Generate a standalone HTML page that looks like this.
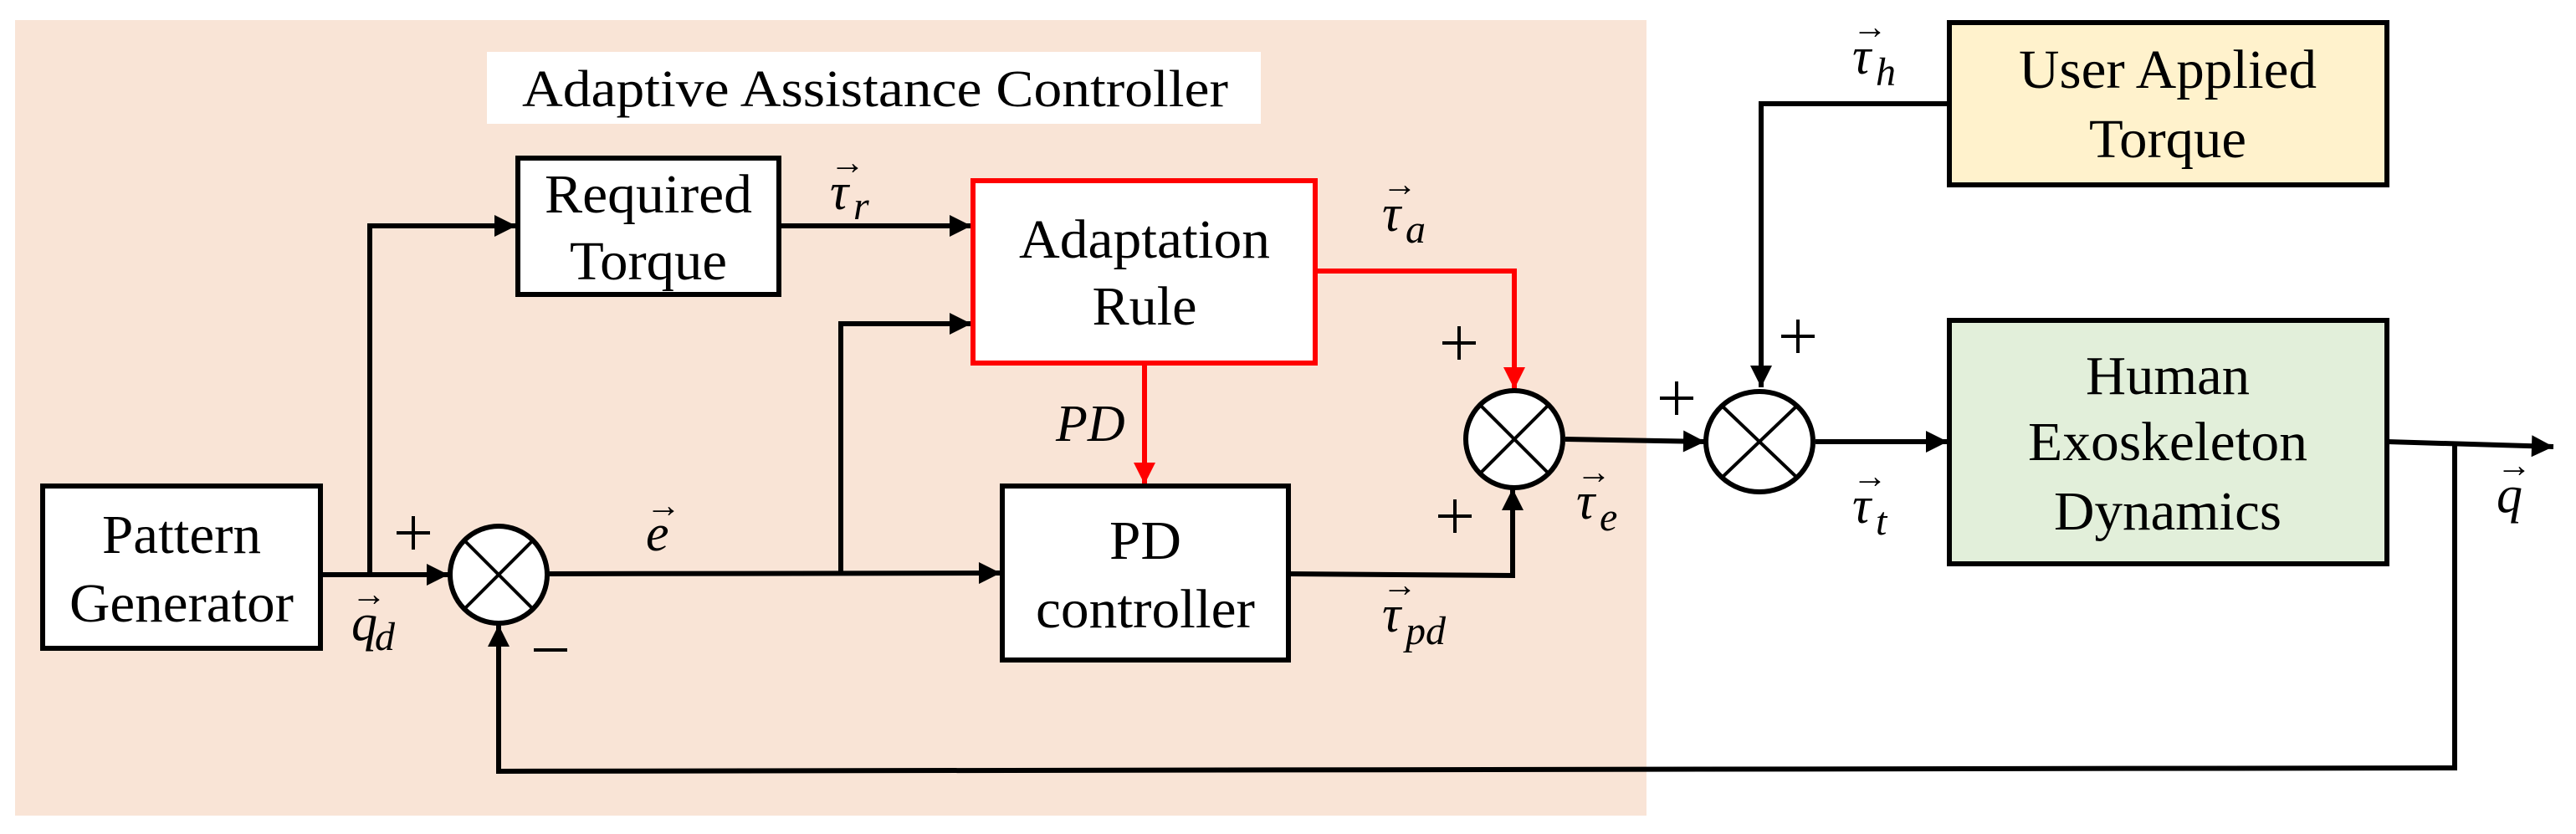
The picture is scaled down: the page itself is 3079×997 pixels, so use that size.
<!DOCTYPE html>
<html><head><meta charset="utf-8"><style>
html,body{margin:0;padding:0;background:#fff;}
svg{display:block;}
svg text{font-family:"Liberation Serif","Times New Roman",serif !important;}
</style></head><body>
<svg width="3079" height="997" viewBox="0 0 3079 997" xmlns="http://www.w3.org/2000/svg">
<defs>
<marker id="a" viewBox="0 0 10 10" refX="10" refY="5" markerWidth="28" markerHeight="26" orient="auto" markerUnits="userSpaceOnUse"><path d="M0,0 L10,5 L0,10 z" fill="#000"/></marker>
<marker id="r" viewBox="0 0 10 10" refX="10" refY="5" markerWidth="28" markerHeight="26" orient="auto" markerUnits="userSpaceOnUse"><path d="M0,0 L10,5 L0,10 z" fill="#ff0000"/></marker>
</defs>
<rect x="18" y="24" width="1950" height="951" fill="#f9e4d6"/>
<rect x="582" y="62" width="925" height="86" fill="#fff"/>
<text x="624" y="127" font-size="62" textLength="844" lengthAdjust="spacingAndGlyphs">Adaptive Assistance Controller</text>

<g fill="none" stroke="#000" stroke-width="6">
<line x1="383" y1="687" x2="536" y2="687" marker-end="url(#a)"/>
<polyline points="442,687 442,270 617,270" marker-end="url(#a)"/>
<line x1="931" y1="270" x2="1161" y2="270" marker-end="url(#a)"/>
<line x1="656" y1="686" x2="1196" y2="685" marker-end="url(#a)"/>
<polyline points="1005,686 1005,387 1161,387" marker-end="url(#a)"/>
<polyline points="1540,686 1808,688 1808,584" marker-end="url(#a)"/>
<line x1="1871" y1="525" x2="2038" y2="528" marker-end="url(#a)"/>
<polyline points="2330,124 2105,124 2105,463" marker-end="url(#a)"/>
<line x1="2170" y1="528" x2="2328" y2="528" marker-end="url(#a)"/>
<line x1="2853" y1="528" x2="3052" y2="534" marker-end="url(#a)"/>
<polyline points="2934,532 2934,918 596,922 596,747" marker-end="url(#a)"/>
</g>
<g fill="none" stroke="#ff0000" stroke-width="6">
<line x1="1368" y1="434" x2="1368" y2="579" marker-end="url(#r)"/>
<polyline points="1572,324 1810,324 1810,465" marker-end="url(#r)"/>
</g>

<g stroke-width="6">
<rect x="619" y="189" width="312" height="163" fill="#fff" stroke="#000"/>
<rect x="1163" y="216" width="409" height="218" fill="#fff" stroke="#ff0000"/>
<rect x="51" y="581" width="332" height="194" fill="#fff" stroke="#000"/>
<rect x="1198" y="581" width="342" height="208" fill="#fff" stroke="#000"/>
<rect x="2330" y="27" width="523" height="194" fill="#fff2cc" stroke="#000"/>
<rect x="2330" y="383" width="523" height="291" fill="#e2efda" stroke="#000"/>
</g>

<g stroke="#000" fill="#fff">
<circle cx="596" cy="687" r="58" stroke-width="6"/>
<circle cx="1810" cy="525" r="58" stroke-width="6"/>
<ellipse cx="2103" cy="528" rx="64" ry="60" stroke-width="6"/>
</g>
<g stroke="#000" stroke-width="4">
<line x1="555" y1="646" x2="637" y2="728"/><line x1="637" y1="646" x2="555" y2="728"/>
<line x1="1769" y1="484" x2="1851" y2="566"/><line x1="1851" y1="484" x2="1769" y2="566"/>
<line x1="2058" y1="485" x2="2148" y2="571"/><line x1="2148" y1="485" x2="2058" y2="571"/>
</g>

<g font-size="66" text-anchor="middle" fill="#000">
<text x="775" y="254" textLength="248" lengthAdjust="spacingAndGlyphs">Required</text>
<text x="775" y="334" textLength="188" lengthAdjust="spacingAndGlyphs">Torque</text>
<text x="1368" y="308" textLength="300" lengthAdjust="spacingAndGlyphs">Adaptation</text>
<text x="1368" y="388" textLength="125" lengthAdjust="spacingAndGlyphs">Rule</text>
<text x="217" y="661" textLength="190" lengthAdjust="spacingAndGlyphs">Pattern</text>
<text x="217" y="743" textLength="268" lengthAdjust="spacingAndGlyphs">Generator</text>
<text x="1369" y="668" textLength="86" lengthAdjust="spacingAndGlyphs">PD</text>
<text x="1369" y="750" textLength="262" lengthAdjust="spacingAndGlyphs">controller</text>
<text x="2591" y="105" textLength="356" lengthAdjust="spacingAndGlyphs">User Applied</text>
<text x="2591" y="188" textLength="188" lengthAdjust="spacingAndGlyphs">Torque</text>
<text x="2591" y="471" textLength="196" lengthAdjust="spacingAndGlyphs">Human</text>
<text x="2591" y="550" textLength="334" lengthAdjust="spacingAndGlyphs">Exoskeleton</text>
<text x="2591" y="633" textLength="272" lengthAdjust="spacingAndGlyphs">Dynamics</text>
</g>

<g stroke="#000" stroke-width="4">
<line x1="474" y1="637" x2="514" y2="637"/><line x1="494" y1="617" x2="494" y2="657"/>
<line x1="638" y1="777" x2="678" y2="777"/>
<line x1="1724" y1="410" x2="1764" y2="410"/><line x1="1744" y1="390" x2="1744" y2="430"/>
<line x1="1719" y1="617" x2="1759" y2="617"/><line x1="1739" y1="597" x2="1739" y2="637"/>
<line x1="1984" y1="476" x2="2024" y2="476"/><line x1="2004" y1="456" x2="2004" y2="496"/>
<line x1="2129" y1="402" x2="2169" y2="402"/><line x1="2149" y1="382" x2="2149" y2="422"/>
</g>

<g fill="#000">
<g font-size="62" font-style="italic">
<text x="420" y="765">q</text><text x="772" y="658">e</text>
<text x="992" y="250">τ</text><text x="1262" y="527">PD</text>
<text x="1652" y="276">τ</text><text x="1652" y="755">τ</text>
<text x="1884" y="620">τ</text><text x="2214" y="88">τ</text>
<text x="2214" y="625">τ</text><text x="2984" y="612">q</text>
</g>
<g font-size="48" font-style="italic">
<text x="448" y="777">d</text><text x="1020" y="262">r</text>
<text x="1680" y="290">a</text><text x="1680" y="770">pd</text>
<text x="1912" y="634">e</text><text x="2242" y="102">h</text>
<text x="2242" y="639">t</text>
</g>
<g font-size="42">
<text x="420" y="724">→</text><text x="772" y="618">→</text>
<text x="992" y="208">→</text><text x="1652" y="234">→</text>
<text x="1652" y="713">→</text><text x="1884" y="578">→</text>
<text x="2214" y="46">→</text><text x="2214" y="583">→</text>
<text x="2984" y="570">→</text>
</g>
</g>
</svg>
</body></html>
